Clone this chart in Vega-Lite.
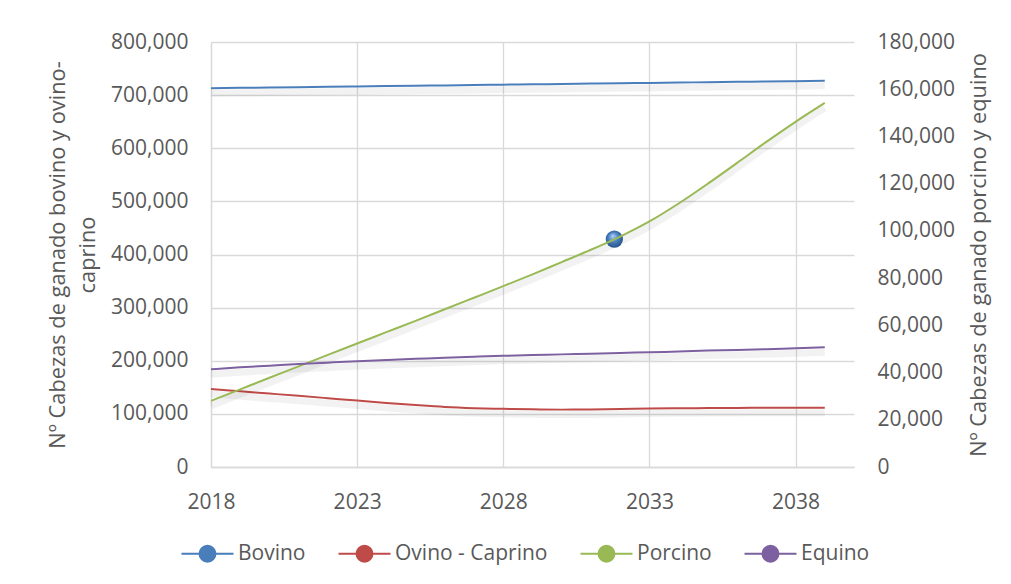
{
  "$schema": "https://vega.github.io/schema/vega-lite/v6.json",
  "width": 643,
  "height": 425,
  "autosize": {"type": "none"},
  "padding": {"left": 211, "top": 42, "right": 157, "bottom": 117},
  "background": "white",
  "config": {
    "font": "Open Sans",
    "view": {"stroke": null},
    "axis": {
      "labelFont": "Open Sans",
      "labelFontSize": 21,
      "labelColor": "#595959",
      "titleFont": "Open Sans",
      "titleFontSize": 21.8,
      "titleFontWeight": "normal",
      "titleColor": "#595959",
      "gridColor": "#d9d9d9",
      "gridWidth": 1.3,
      "domainColor": "#d9d9d9",
      "domainWidth": 1.3,
      "ticks": false
    },
    "legend": {
      "labelFont": "Open Sans",
      "labelFontSize": 21,
      "labelColor": "#595959"
    }
  },
  "datasets": {
    "series": [
      {"year": 2018, "species": "Bovino", "value": 713000},
      {"year": 2019, "species": "Bovino", "value": 713700},
      {"year": 2020, "species": "Bovino", "value": 714300},
      {"year": 2021, "species": "Bovino", "value": 715000},
      {"year": 2022, "species": "Bovino", "value": 715700},
      {"year": 2023, "species": "Bovino", "value": 716300},
      {"year": 2024, "species": "Bovino", "value": 717000},
      {"year": 2025, "species": "Bovino", "value": 717700},
      {"year": 2026, "species": "Bovino", "value": 718300},
      {"year": 2027, "species": "Bovino", "value": 719000},
      {"year": 2028, "species": "Bovino", "value": 719700},
      {"year": 2029, "species": "Bovino", "value": 720300},
      {"year": 2030, "species": "Bovino", "value": 721000},
      {"year": 2031, "species": "Bovino", "value": 721700},
      {"year": 2032, "species": "Bovino", "value": 722300},
      {"year": 2033, "species": "Bovino", "value": 723000},
      {"year": 2034, "species": "Bovino", "value": 723700},
      {"year": 2035, "species": "Bovino", "value": 724300},
      {"year": 2036, "species": "Bovino", "value": 725000},
      {"year": 2037, "species": "Bovino", "value": 725700},
      {"year": 2038, "species": "Bovino", "value": 726300},
      {"year": 2039, "species": "Bovino", "value": 727000},
      {"year": 2018, "species": "Ovino - Caprino", "value": 146800},
      {"year": 2019, "species": "Ovino - Caprino", "value": 142500},
      {"year": 2020, "species": "Ovino - Caprino", "value": 138200},
      {"year": 2021, "species": "Ovino - Caprino", "value": 133900},
      {"year": 2022, "species": "Ovino - Caprino", "value": 129500},
      {"year": 2023, "species": "Ovino - Caprino", "value": 125000},
      {"year": 2024, "species": "Ovino - Caprino", "value": 120500},
      {"year": 2025, "species": "Ovino - Caprino", "value": 116500},
      {"year": 2026, "species": "Ovino - Caprino", "value": 113000},
      {"year": 2027, "species": "Ovino - Caprino", "value": 110800},
      {"year": 2028, "species": "Ovino - Caprino", "value": 109500},
      {"year": 2029, "species": "Ovino - Caprino", "value": 108500},
      {"year": 2030, "species": "Ovino - Caprino", "value": 108000},
      {"year": 2031, "species": "Ovino - Caprino", "value": 108300},
      {"year": 2032, "species": "Ovino - Caprino", "value": 109000},
      {"year": 2033, "species": "Ovino - Caprino", "value": 110000},
      {"year": 2034, "species": "Ovino - Caprino", "value": 110500},
      {"year": 2035, "species": "Ovino - Caprino", "value": 111000},
      {"year": 2036, "species": "Ovino - Caprino", "value": 111200},
      {"year": 2037, "species": "Ovino - Caprino", "value": 111400},
      {"year": 2038, "species": "Ovino - Caprino", "value": 111500},
      {"year": 2039, "species": "Ovino - Caprino", "value": 111700},
      {"year": 2018, "species": "Porcino", "value": 28000},
      {"year": 2019, "species": "Porcino", "value": 32900},
      {"year": 2020, "species": "Porcino", "value": 37800},
      {"year": 2021, "species": "Porcino", "value": 42600},
      {"year": 2022, "species": "Porcino", "value": 47500},
      {"year": 2023, "species": "Porcino", "value": 52300},
      {"year": 2024, "species": "Porcino", "value": 57100},
      {"year": 2025, "species": "Porcino", "value": 61900},
      {"year": 2026, "species": "Porcino", "value": 66800},
      {"year": 2027, "species": "Porcino", "value": 71700},
      {"year": 2028, "species": "Porcino", "value": 76600},
      {"year": 2029, "species": "Porcino", "value": 81600},
      {"year": 2030, "species": "Porcino", "value": 86800},
      {"year": 2031, "species": "Porcino", "value": 92000},
      {"year": 2032, "species": "Porcino", "value": 97600},
      {"year": 2033, "species": "Porcino", "value": 104000},
      {"year": 2034, "species": "Porcino", "value": 111600},
      {"year": 2035, "species": "Porcino", "value": 120000},
      {"year": 2036, "species": "Porcino", "value": 128800},
      {"year": 2037, "species": "Porcino", "value": 137700},
      {"year": 2038, "species": "Porcino", "value": 146200},
      {"year": 2039, "species": "Porcino", "value": 154200},
      {"year": 2018, "species": "Equino", "value": 41400},
      {"year": 2019, "species": "Equino", "value": 42200},
      {"year": 2020, "species": "Equino", "value": 42900},
      {"year": 2021, "species": "Equino", "value": 43600},
      {"year": 2022, "species": "Equino", "value": 44200},
      {"year": 2023, "species": "Equino", "value": 44800},
      {"year": 2024, "species": "Equino", "value": 45300},
      {"year": 2025, "species": "Equino", "value": 45800},
      {"year": 2026, "species": "Equino", "value": 46300},
      {"year": 2027, "species": "Equino", "value": 46700},
      {"year": 2028, "species": "Equino", "value": 47100},
      {"year": 2029, "species": "Equino", "value": 47400},
      {"year": 2030, "species": "Equino", "value": 47700},
      {"year": 2031, "species": "Equino", "value": 48000},
      {"year": 2032, "species": "Equino", "value": 48300},
      {"year": 2033, "species": "Equino", "value": 48600},
      {"year": 2034, "species": "Equino", "value": 48900},
      {"year": 2035, "species": "Equino", "value": 49300},
      {"year": 2036, "species": "Equino", "value": 49600},
      {"year": 2037, "species": "Equino", "value": 49900},
      {"year": 2038, "species": "Equino", "value": 50300},
      {"year": 2039, "species": "Equino", "value": 50700}
    ],
    "marker": [
      {"year": 2031.8, "value": 429000}
    ]
  },
  "resolve": {"scale": {"y": "independent"}},
  "layer": [
    {
      "encoding": {
        "x": {
          "field": "year",
          "type": "quantitative",
          "scale": {"domain": [2018, 2040], "nice": false, "zero": false},
          "axis": {
            "values": [2018, 2023, 2028, 2033, 2038],
            "format": "d",
            "grid": true,
            "title": null,
            "labelFlush": false,
            "labelPadding": 24
          }
        },
        "y": {
          "field": "value",
          "type": "quantitative",
          "scale": {"domain": [0, 800000], "nice": false},
          "axis": {
            "values": [0, 100000, 200000, 300000, 400000, 500000, 600000, 700000, 800000],
            "format": ",d",
            "grid": true,
            "labelPadding": 23,
            "title": ["Nº Cabezas de ganado bovino y ovino-", "caprino"],
            "titlePadding": 11,
            "titleLineHeight": 30
          }
        }
      },
      "layer": [
        {
          "data": {"name": "series"},
          "transform": [{"filter": {"field": "species", "oneOf": ["Bovino", "Ovino - Caprino"]}}],
          "mark": {"type": "line", "interpolate": "monotone", "stroke": "#000000", "strokeOpacity": 0.05, "strokeWidth": 7, "yOffset": 5},
          "encoding": {"detail": {"field": "species"}}
        },
        {
          "data": {"name": "series"},
          "transform": [{"filter": {"field": "species", "oneOf": ["Bovino", "Ovino - Caprino"]}}],
          "mark": {"type": "line", "interpolate": "monotone", "strokeWidth": 2},
          "encoding": {
            "color": {
              "field": "species",
              "type": "nominal",
              "scale": {
                "domain": ["Bovino", "Ovino - Caprino", "Porcino", "Equino"],
                "range": ["#4a7ebb", "#be4b48", "#98b954", "#7d60a0"]
              },
              "legend": {
                "title": null,
                "orient": "none",
                "direction": "horizontal",
                "legendX": -14,
                "legendY": 501,
                "symbolType": "M-3.25,0L-1,0M1,0L3.25,0M-1,0A1,1,0,1,0,1,0A1,1,0,1,0,-1,0Z",
                "symbolSize": 256,
                "symbolStrokeWidth": 2,
                "labelOffset": 20,
                "columnPadding": 28,
                "encode": {
                  "symbols": {
                    "update": {
                      "fill": {"scale": "color", "field": "value"},
                      "stroke": {"scale": "color", "field": "value"},
                      "opacity": {"value": 1}
                    }
                  }
                }
              }
            }
          }
        },
        {
          "data": {"name": "marker"},
          "mark": {
            "type": "point",
            "filled": true,
            "size": 300,
            "opacity": 1,
            "fill": {
              "gradient": "radial",
              "x1": 0.4, "y1": 0.3, "r1": 0,
              "x2": 0.5, "y2": 0.5, "r2": 0.55,
              "stops": [
                {"offset": 0, "color": "#b5d3f7"},
                {"offset": 0.5, "color": "#4f86c6"},
                {"offset": 1, "color": "#23508a"}
              ]
            }
          }
        }
      ]
    },
    {
      "data": {"name": "series"},
      "transform": [{"filter": {"field": "species", "oneOf": ["Porcino", "Equino"]}}],
      "encoding": {
        "x": {"field": "year", "type": "quantitative"},
        "y": {
          "field": "value",
          "type": "quantitative",
          "scale": {"domain": [0, 180000], "nice": false},
          "axis": {
            "orient": "right",
            "values": [0, 20000, 40000, 60000, 80000, 100000, 120000, 140000, 160000, 180000],
            "format": ",d",
            "grid": false,
            "domain": false,
            "labelPadding": 23,
            "title": "Nº Cabezas de ganado porcino y equino",
            "titleAngle": -90,
            "titleBaseline": "top",
            "titlePadding": 14
          }
        }
      },
      "layer": [
        {
          "mark": {"type": "line", "interpolate": "monotone", "stroke": "#000000", "strokeOpacity": 0.05, "strokeWidth": 7, "yOffset": 5},
          "encoding": {"detail": {"field": "species"}}
        },
        {
          "mark": {"type": "line", "interpolate": "monotone", "strokeWidth": 2},
          "encoding": {
            "color": {
              "field": "species",
              "type": "nominal",
              "scale": {
                "domain": ["Bovino", "Ovino - Caprino", "Porcino", "Equino"],
                "range": ["#4a7ebb", "#be4b48", "#98b954", "#7d60a0"]
              }
            }
          }
        }
      ]
    }
  ]
}
